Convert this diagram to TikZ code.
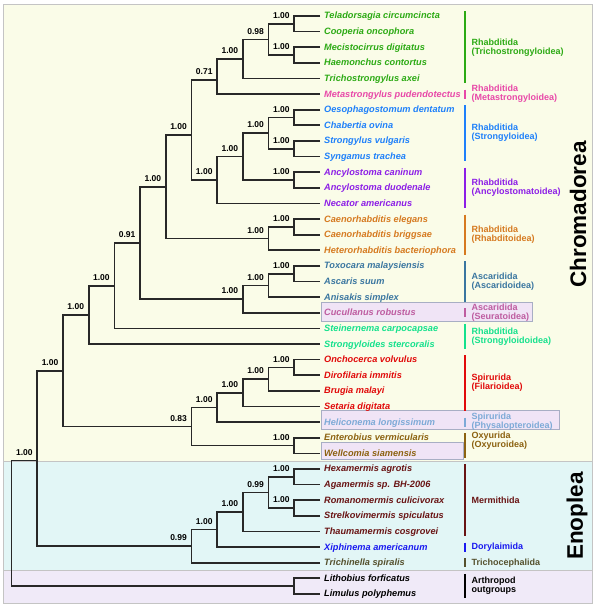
\documentclass[tikz,border=0pt]{standalone}
\usepackage{fontspec}
\setmainfont{Liberation Sans}
\usetikzlibrary{positioning, calc, backgrounds}

\definecolor{chromabg}{RGB}{250,252,232}
\definecolor{enobg}{RGB}{226,246,246}
\definecolor{arthbg}{RGB}{240,234,248}
\definecolor{framegray}{RGB}{196,196,196}
\definecolor{hilitefill}{RGB}{240,228,246}
\definecolor{hiliteline}{RGB}{168,174,196}
\definecolor{treegray}{RGB}{40,40,40}
\definecolor{trichgreen}{RGB}{44,170,20}
\definecolor{metapink}{RGB}{232,72,168}
\definecolor{strongblue}{RGB}{30,128,250}
\definecolor{ancyviolet}{RGB}{140,30,230}
\definecolor{rhaborange}{RGB}{214,122,32}
\definecolor{ascablue}{RGB}{58,118,160}
\definecolor{seuramauve}{RGB}{190,92,160}
\definecolor{stronggreen}{RGB}{20,225,140}
\definecolor{filared}{RGB}{225,10,10}
\definecolor{physablue}{RGB}{125,170,215}
\definecolor{oxybrown}{RGB}{140,98,16}
\definecolor{mermmaroon}{RGB}{105,20,20}
\definecolor{dorylblue}{RGB}{25,25,240}
\definecolor{trichoolive}{RGB}{85,80,45}

% clade: [nudge down], name, level (distance from the tips), child a, child b, support
\newcommand{\clade}[6][0]{%
  \path let \p1=($(#4)!0.5!(#5)$) in ({320pt-25.7pt*#3},{\y1-#1pt}) coordinate (#2);
  \draw[branch] (#4) -| (#2) |- (#5);
  \if\relax\detokenize{#6}\relax\else
    \node[support, above left=5pt and 4.5pt of #2] {#6};
  \fi}
% taxonomic group: [label shift], first tip, last tip, colour, text
\newcommand{\taxgroup}[5][0pt]{%
  \draw[grpbar, draw=#4] ($(#2.west -| barx)+(0,-4.5)$) -- ($(#3.west -| barx)+(0,4.5)$);
  \node[grplabel, text=#4, yshift=#1] at ($(#2.west -| labx)!0.5!(#3.west -| labx)$) {#5};}

\begin{document}
\begin{tikzpicture}[x=1pt, y=-1pt,
  branch/.style={draw=treegray, line width=1.7pt, line join=miter},
  leaf/.style={anchor=west, inner xsep=4pt, inner ysep=0pt,
    text height=7pt, text depth=1pt,
    font=\fontsize{9.2}{10}\selectfont\bfseries\itshape},
  support/.style={inner sep=0pt, font=\fontsize{8.5}{9}\selectfont\bfseries},
  grpbar/.style={line width=2.6pt},
  grplabel/.style={anchor=west, align=left, inner sep=0pt,
    font=\fontsize{9}{9}\selectfont\bfseries},
  bigtitle/.style={rotate=90, inner sep=0pt,
    font=\fontsize{22.5}{24}\selectfont\bfseries},
  frameline/.style={draw=framegray, line width=0.8pt},
  hilite/.style={fill=hilitefill, draw=hiliteline, line width=0.6pt},
]
\useasboundingbox (0,0) rectangle (600,610);
\coordinate (barx) at (465,0);
\coordinate (labx) at (471.5,0);
%
% ====== TIPS ======
\foreach \taxon/\tcol [count=\i] in {
  Teladorsagia circumcincta/trichgreen, Cooperia oncophora/trichgreen,
  Mecistocirrus digitatus/trichgreen, Haemonchus contortus/trichgreen,
  Trichostrongylus axei/trichgreen, Metastrongylus pudendotectus/metapink,
  Oesophagostomum dentatum/strongblue, Chabertia ovina/strongblue,
  Strongylus vulgaris/strongblue, Syngamus trachea/strongblue,
  Ancylostoma caninum/ancyviolet, Ancylostoma duodenale/ancyviolet,
  Necator americanus/ancyviolet, Caenorhabditis elegans/rhaborange,
  Caenorhabditis briggsae/rhaborange, Heterorhabditis bacteriophora/rhaborange,
  Toxocara malaysiensis/ascablue, Ascaris suum/ascablue,
  Anisakis simplex/ascablue, Cucullanus robustus/seuramauve,
  Steinernema carpocapsae/stronggreen, Strongyloides stercoralis/stronggreen,
  Onchocerca volvulus/filared, Dirofilaria immitis/filared,
  Brugia malayi/filared, Setaria digitata/filared,
  Heliconema longissimum/physablue, Enterobius vermicularis/oxybrown,
  Wellcomia siamensis/oxybrown, Hexamermis agrotis/mermmaroon,
  Agamermis sp. BH-2006/mermmaroon, Romanomermis culicivorax/mermmaroon,
  Strelkovimermis spiculatus/mermmaroon, Thaumamermis cosgrovei/mermmaroon,
  Xiphinema americanum/dorylblue, Trichinella spiralis/trichoolive,
  Lithobius forficatus/black, Limulus polyphemus/black}
  \node[leaf, text=\tcol] (l\i) at (320, {16+(\i-1)*15.62}) {\taxon};
%
% ====== CHROMADOREA ======
\clade{n1}{1}{l1.west}{l2.west}{1.00}
\clade{n2}{1}{l3.west}{l4.west}{1.00}
\clade{n3}{2}{n1}{n2}{0.98}
\clade{n4}{3}{n3}{l5.west}{1.00}
\clade[3.5]{n5}{4}{n4}{l6.west}{0.71}
\clade{n6}{1}{l7.west}{l8.west}{1.00}
\clade{n7}{1}{l9.west}{l10.west}{1.00}
\clade{n8}{2}{n6}{n7}{1.00}
\clade{n9}{1}{l11.west}{l12.west}{1.00}
\clade{n10}{3}{n8}{n9}{1.00}
\clade{n11}{4}{n10}{l13.west}{1.00}
\clade[5]{n12}{5}{n5}{n11}{1.00}
\clade{n13}{1}{l14.west}{l15.west}{1.00}
\clade{n14}{2}{n13}{l16.west}{1.00}
\clade{n15}{6}{n12}{n14}{1.00}
\clade{n16}{1}{l17.west}{l18.west}{1.00}
\clade{n17}{2}{n16}{l19.west}{1.00}
\clade{n18}{3}{n17}{l20.west}{1.00}
\clade{n19}{7}{n15}{n18}{0.91}
\clade{n20}{8}{n19}{l21.west}{1.00}
\clade{n21}{9}{n20}{l22.west}{1.00}
\clade{n22}{1}{l23.west}{l24.west}{1.00}
\clade{n23}{2}{n22}{l25.west}{1.00}
\clade{n24}{3}{n23}{l26.west}{1.00}
\clade{n25}{4}{n24}{l27.west}{1.00}
\clade{n26}{1}{l28.west}{l29.west}{1.00}
\clade{n27}{5}{n25}{n26}{0.83}
\clade{n28}{10}{n21}{n27}{1.00}
%
% ====== ENOPLEA AND OUTGROUPS ======
\clade{n29}{1}{l30.west}{l31.west}{1.00}
\clade{n30}{1}{l32.west}{l33.west}{1.00}
\clade{n31}{2}{n29}{n30}{0.99}
\clade{n32}{3}{n31}{l34.west}{1.00}
\clade{n33}{4}{n32}{l35.west}{1.00}
\clade{n34}{5}{n33}{l36.west}{0.99}
\clade[2]{n35}{11}{n28}{n34}{1.00}
\clade{n36}{1}{l37.west}{l38.west}{}
\clade{root}{12}{n35}{n36}{}
%
% ====== GROUPS ======
\taxgroup{l1}{l5}{trichgreen}{Rhabditida\\(Trichostrongyloidea)}
\taxgroup{l6}{l6}{metapink}{Rhabditida\\(Metastrongyloidea)}
\taxgroup{l7}{l10}{strongblue}{Rhabditida\\(Strongyloidea)}
\taxgroup{l11}{l13}{ancyviolet}{Rhabditida\\(Ancylostomatoidea)}
\taxgroup{l14}{l16}{rhaborange}{Rhabditida\\(Rhabditoidea)}
\taxgroup{l17}{l19}{ascablue}{Ascaridida\\(Ascaridoidea)}
\taxgroup{l20}{l20}{seuramauve}{Ascaridida\\(Seuratoidea)}
\taxgroup{l21}{l22}{stronggreen}{Rhabditida\\(Strongyloidoidea)}
\taxgroup{l23}{l26}{filared}{Spirurida\\(Filarioidea)}
\taxgroup{l27}{l27}{physablue}{Spirurida\\(Physalopteroidea)}
\taxgroup[5pt]{l28}{l29}{oxybrown}{Oxyurida\\(Oxyuroidea)}
\taxgroup{l30}{l34}{mermmaroon}{Mermithida}
\taxgroup{l35}{l35}{dorylblue}{Dorylaimida}
\taxgroup{l36}{l36}{trichoolive}{Trichocephalida}
\taxgroup{l37}{l38}{black}{Arthropod\\outgroups}
%
\node[bigtitle] (t_chroma) at (578,214.5) {Chromadorea};
\node[bigtitle] (t_enop) at (577,516) {Enoplea};
%
\begin{scope}[on background layer]
  \fill[chromabg] (3,4) rectangle (592,461);
  \fill[enobg] (3,461) rectangle (592,570);
  \fill[arthbg] (3,570) rectangle (592,603);
  \draw[frameline] (3,4) rectangle (592,603);
  \draw[frameline] (3,461) -- (592,461);
  \draw[frameline] (3,570) -- (592,570);
  \draw[hilite] (321,302) rectangle (532,321);
  \draw[hilite] (321,410) rectangle (559,429);
  \draw[hilite] (321,442) rectangle (463,459);
\end{scope}
\end{tikzpicture}
\end{document}
